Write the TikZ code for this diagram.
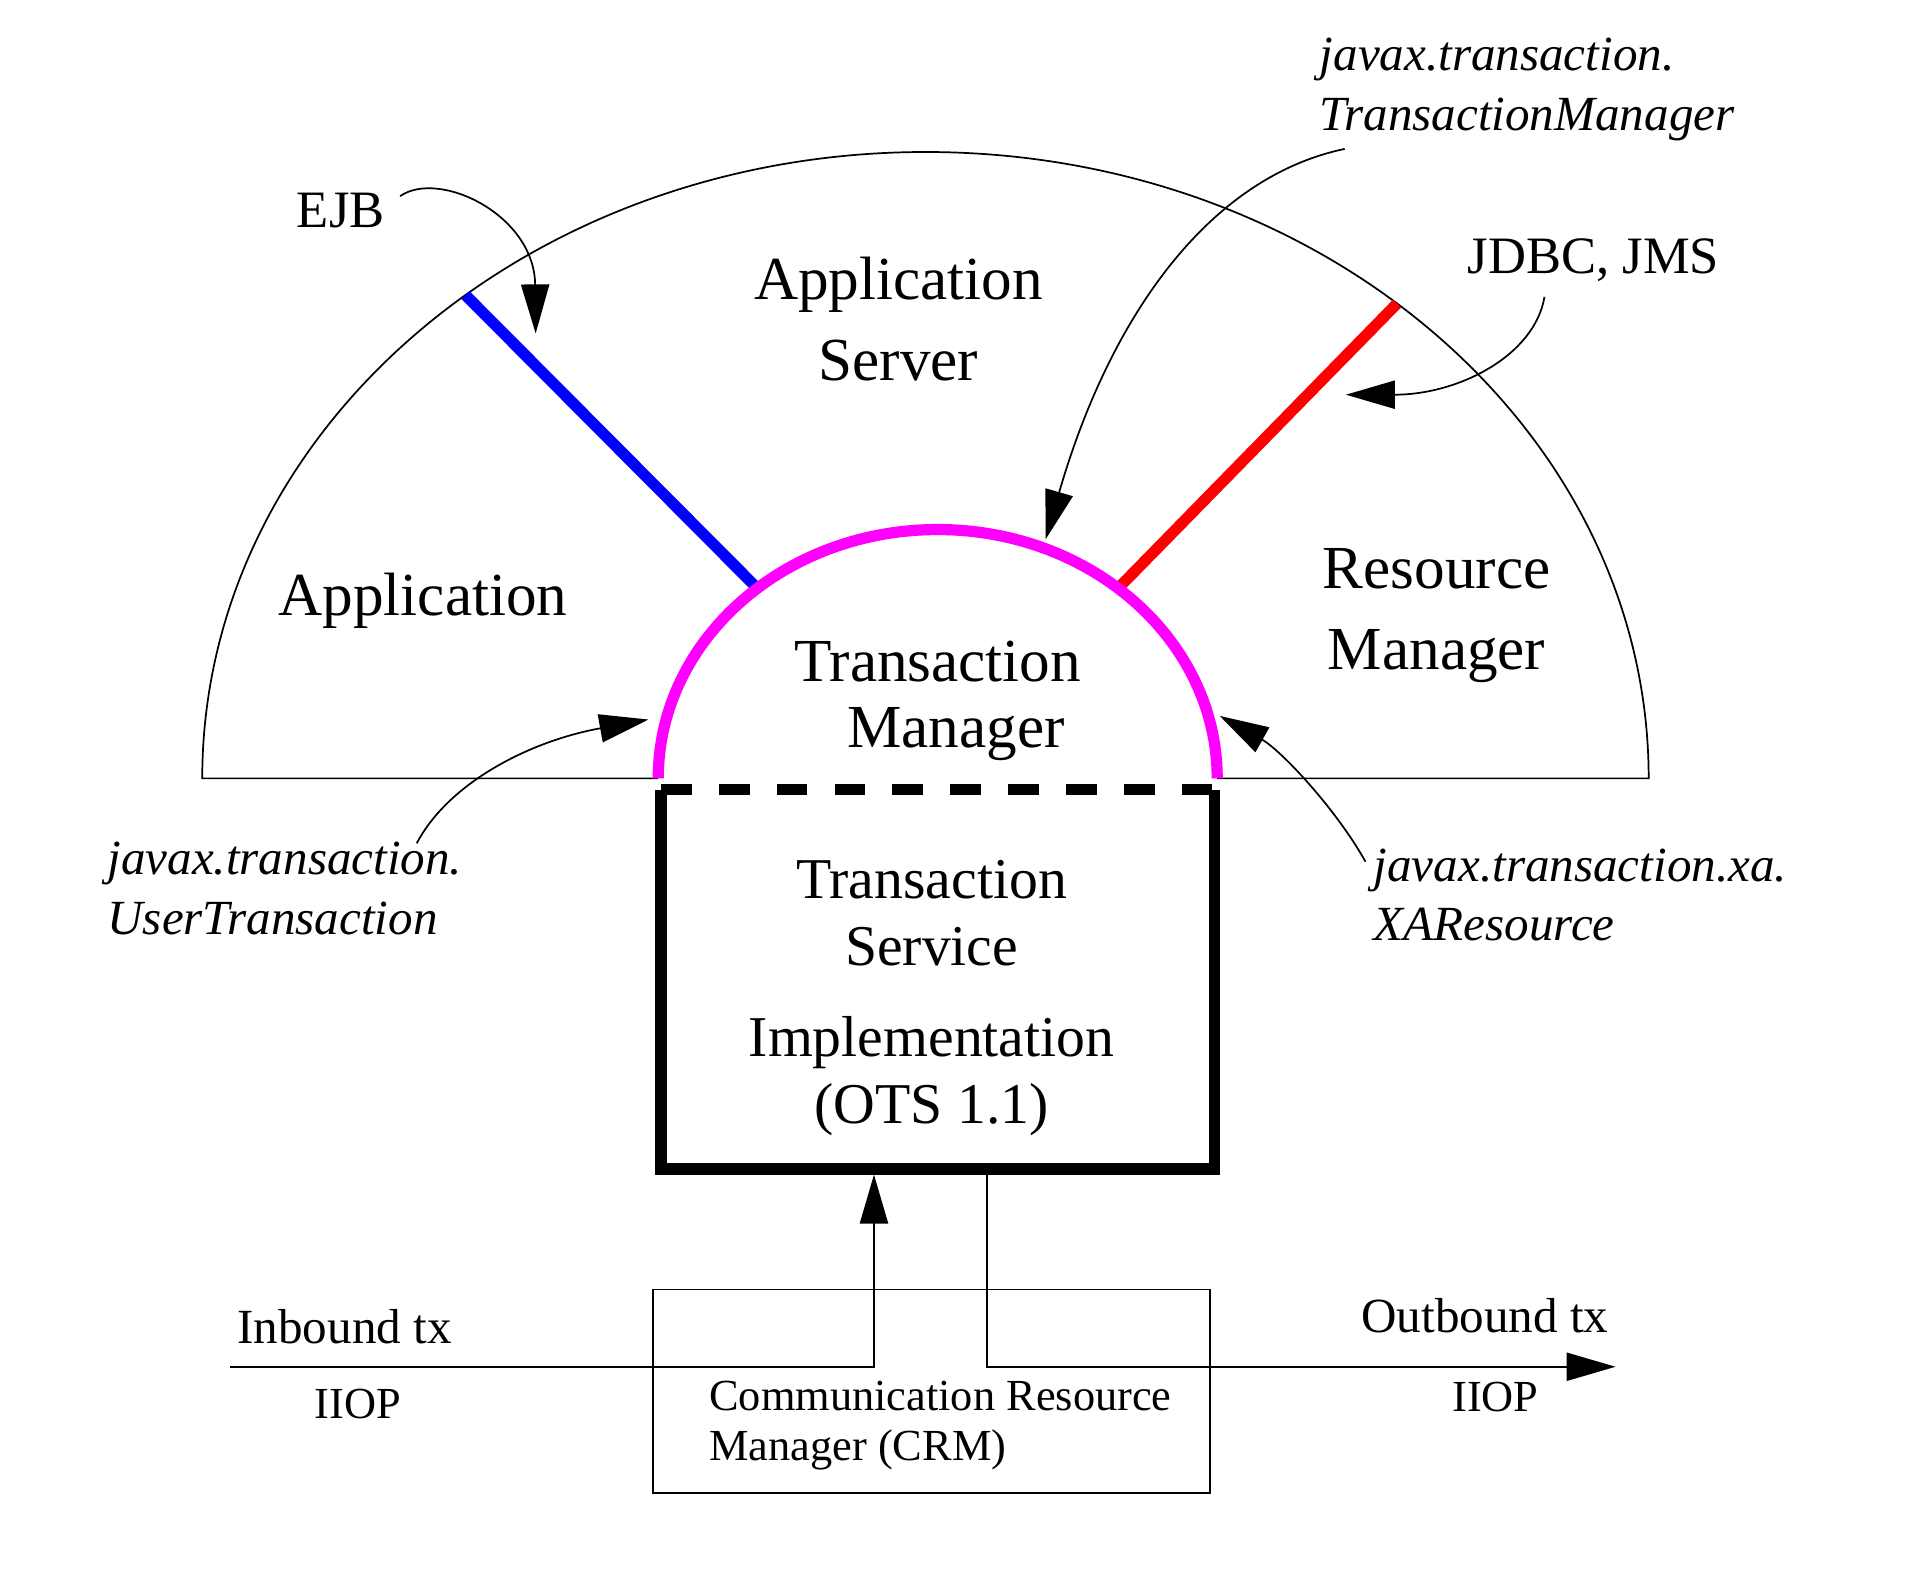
\documentclass[tikz,border=0pt]{standalone}
\usepackage{fontspec}
\setmainfont{Liberation Serif}
\usetikzlibrary{arrows.meta,calc,positioning}
\definecolor{tmmagenta}{HTML}{FF00FF}
\definecolor{ejbblue}{HTML}{0000FF}
\definecolor{rmred}{HTML}{FF0000}

\begin{document}
\begin{tikzpicture}[>={Triangle[length=0.4cm,width=0.23cm]},line width=0.4pt,
  big/.style={font=\fontsize{14.2}{18.8}\selectfont,align=center,inner sep=0pt},
  boxtext/.style={font=\fontsize{13.4}{15.6}\selectfont,align=center,inner sep=0pt},
  mid/.style={font=\fontsize{12.2}{14}\selectfont,inner sep=0pt},
  small/.style={font=\fontsize{11.4}{13}\selectfont,inner sep=0pt},
  tiny/.style={font=\fontsize{10.3}{11.4}\selectfont,inner sep=0pt},
  api/.style={font=\fontsize{11.4}{13.8}\selectfont\itshape,align=left,anchor=west,inner sep=0pt},
  thickline/.style={line width=2.6pt}]
  \useasboundingbox (0,0) rectangle (15.68,-12.87);
  % centres of the two half ellipses
  \coordinate (asc) at (7.55,-6.35);
  \coordinate (tmc) at (7.65,-6.35);
  \coordinate (ejbtop) at ([shift={(129.5:5.9 and 5.11)}]asc);
  \coordinate (ejbbot) at ([shift={(130.2:2.28 and 2.03)}]tmc);
  \coordinate (rmtop) at ([shift={(49.3:5.9 and 5.11)}]asc);
  \coordinate (rmbot) at ([shift={(49.8:2.28 and 2.03)}]tmc);

  % application server
  \draw ([xshift=-2.28cm]tmc) -- ([xshift=-5.9cm]asc)
    arc[start angle=180,end angle=0,x radius=5.9,y radius=5.11] -- ([xshift=2.28cm]tmc);
  \draw[thickline,ejbblue] (ejbtop) -- (ejbbot);
  \draw[thickline,rmred] (rmtop) -- (rmbot);
  \draw[thickline,tmmagenta] ([xshift=-2.28cm]tmc)
    arc[start angle=180,end angle=0,x radius=2.28,y radius=2.03];

  % transaction service box
  \node[minimum width=4.5cm,minimum height=3.08cm,inner sep=0pt] (tsi) at (7.65,-7.99) {};
  \draw[thickline] (tsi.north west) -- (tsi.south west) -- (tsi.south east) -- (tsi.north east);
  \draw[thickline,dash pattern=on 0.25cm off 0.222cm] (tsi.north west) -- (tsi.north east);
  \node[boxtext] (tsitext) at (7.6,-8.14) {Transaction\\Service\\[0.19cm]Implementation\\(OTS 1.1)};

  % labels
  \node[big] (as) at (7.33,-2.6) {Application\\Server};
  \node[big] (app) at (3.45,-4.9) {Application};
  \node[big,font=\fontsize{14.2}{15.4}\selectfont] (tm) at (7.65,-5.72) {Transaction\\\hspace*{0.3cm}Manager};
  \node[big] (rm) at (11.72,-5.02) {Resource\\Manager};
  \node[mid] (ejb) at (2.78,-1.72) {EJB};
  \node[mid] (jdbc) at (13.0,-2.12) {JDBC, JMS};
  \node[api] (jtm) at (10.76,-0.73) {javax.transaction.\\TransactionManager};
  \node[api] (jut) at (0.87,-7.25) {javax.transaction.\\UserTransaction};
  \node[api] (jxa) at (11.2,-7.3) {javax.transaction.xa.\\XAResource};

  % interface arrows
  \coordinate (ejbtip) at (4.37,-2.72);
  \coordinate (jtmtip) at (8.53,-4.4);
  \coordinate (jdbctip) at (10.98,-3.22);
  \coordinate (juttip) at (5.29,-5.87);
  \coordinate (jxatip) at (9.95,-5.84);
  \draw[->] ([xshift=0.12cm,yshift=0.12cm]ejb.east) .. controls (3.58,-1.38) and (4.36,-1.75) .. (ejbtip);
  \draw[->] ([xshift=0.21cm,yshift=-0.06cm]jtm.south west) .. controls (9.85,-1.45) and (9.05,-2.6) .. (jtmtip);
  \draw[->] ([xshift=-0.4cm,yshift=-0.12cm]jdbc.south) .. controls (12.52,-2.9) and (11.9,-3.22) .. (jdbctip);
  \draw[->] ([xshift=2.53cm,yshift=0.37cm]jut.west) .. controls (3.65,-6.4) and (4.3,-6.05) .. (juttip);
  \draw[->] ([xshift=-0.06cm,yshift=0.27cm]jxa.west) .. controls (10.9,-6.6) and (10.45,-6.12) .. (jxatip);

  % communication resource manager
  \node[draw,minimum width=4.54cm,minimum height=1.66cm,inner sep=0pt] (crm) at (7.6,-11.35) {};
  \node[tiny,align=left,anchor=west] (crmtext) at (5.78,-11.63) {Communication Resource\\Manager (CRM)};
  \coordinate (inbstart) at (1.88,-11.15);
  \coordinate (outbend) at (13.18,-11.15);
  \draw[->] (inbstart) -| ([xshift=-0.52cm,yshift=-0.045cm]tsi.south);
  \draw[->] ([xshift=0.4cm,yshift=-0.045cm]tsi.south) |- (outbend);
  \node[small,anchor=west] (inbtx) at (1.93,-10.82) {Inbound tx};
  \node[tiny] (iiopin) at (2.92,-11.45) {IIOP};
  \node[small,anchor=west] (outbtx) at (11.1,-10.73) {Outbound tx};
  \node[tiny] (iiopout) at (12.2,-11.4) {IIOP};
\end{tikzpicture}
\end{document}
